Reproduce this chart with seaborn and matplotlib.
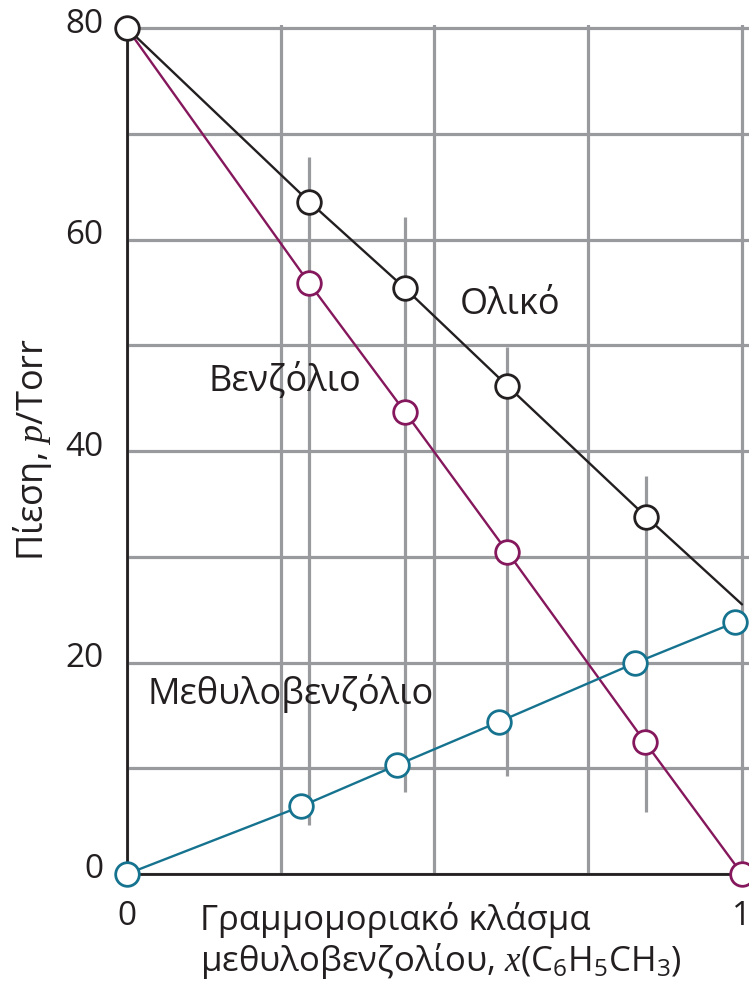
import matplotlib
matplotlib.use("Agg")
import matplotlib.pyplot as plt
import matplotlib.transforms as mtransforms
import seaborn as sns
import pandas as pd

# Vapour pressures of a benzene / methylbenzene mixture (Torr) against mole fraction of methylbenzene
x_total = [0.0, 0.296, 0.452, 0.618, 0.844, 1.0]
p_total = [80.0, 63.6, 55.4, 46.2, 33.8, 25.5]

x_benzene = [0.0, 0.296, 0.452, 0.618, 0.842, 1.0]
p_benzene = [80.0, 55.9, 43.7, 30.5, 12.5, 0.0]

x_methyl = [0.0, 0.283, 0.439, 0.605, 0.826, 0.989]
p_methyl = [0.0, 6.4, 10.3, 14.4, 19.95, 23.8]

# vertical composition lines through the measured points
x_iso = [0.296, 0.452, 0.618, 0.844]
iso_low = [4.6, 7.8, 9.3, 5.9]
iso_high = [67.8, 62.1, 49.8, 37.6]

x_ticks = [0, 0.25, 0.5, 0.75, 1.0]
x_ticklabels = ["0", "", "", "", "1"]
y_ticks = [0, 10, 20, 30, 40, 50, 60, 70, 80]
y_ticklabels = ["0", "", "20", "", "40", "", "60", "", "80"]

label_total = "Ολικό"
label_benzene = "Βενζόλιο"
label_methyl = "Μεθυλοβενζόλιο"

sns.set_theme(style="white")
plt.rcParams["font.family"] = ["Open Sans", "DejaVu Sans"]
plt.rcParams["mathtext.fontset"] = "custom"
plt.rcParams["mathtext.rm"] = "Open Sans"
plt.rcParams["mathtext.it"] = "Liberation Serif:italic"
plt.rcParams["mathtext.bf"] = "Open Sans:bold"

TEXT = "#231f20"
GRID = "#999a9e"
C_TOTAL = "#231f20"
C_BENZ = "#85175c"
C_METH = "#16738f"

fig = plt.figure(figsize=(7.49, 9.90), dpi=100)
ax = fig.add_axes([127 / 749, 116 / 990, 622 / 749, 849 / 990])
ax.set_xlim(0, 622 / 615)
ax.set_ylim(0, 80.3)

ax.set_xticks(x_ticks)
ax.set_xticklabels(x_ticklabels)
ax.set_yticks(y_ticks)
ax.set_yticklabels(y_ticklabels)
ax.tick_params(axis="both", length=0, labelsize=24, colors=TEXT)
ax.tick_params(axis="y", pad=17)
ax.tick_params(axis="x", pad=19)
for lab in ax.get_yticklabels():
    lab.set_transform(lab.get_transform() +
                      mtransforms.ScaledTranslation(0, 8 / 100, fig.dpi_scale_trans))

ax.grid(True, color=GRID, linewidth=2.3)
ax.set_axisbelow(True)

for side in ("top", "right"):
    ax.spines[side].set_visible(False)
for side in ("left", "bottom"):
    ax.spines[side].set_color(TEXT)
    ax.spines[side].set_linewidth(2.0)
ax.spines["left"].set_bounds(0, 80)

ax.vlines(x_iso, iso_low, iso_high, colors=GRID, linewidth=2.3, zorder=1.5)

df_total = pd.DataFrame({"x": x_total, "p": p_total})
df_benz = pd.DataFrame({"x": x_benzene, "p": p_benzene})
df_meth = pd.DataFrame({"x": x_methyl, "p": p_methyl})

mk = dict(marker="o", markersize=17, markerfacecolor="white",
          markeredgewidth=2.0, linewidth=1.7, clip_on=False)

sns.lineplot(data=df_benz, x="x", y="p", ax=ax, color=C_BENZ,
             markeredgecolor=C_BENZ, markevery=[1, 2, 3, 4, 5], zorder=3, **mk)
sns.lineplot(data=df_meth, x="x", y="p", ax=ax, color=C_METH,
             markeredgecolor=C_METH, zorder=3.5, **mk)
sns.lineplot(data=df_total, x="x", y="p", ax=ax, color=C_TOTAL,
             markeredgecolor=C_TOTAL, markevery=[0, 1, 2, 3, 4], zorder=4, **mk)

ax.text(0.541, 53.8, label_total, fontsize=26, color=TEXT, ha="left", va="center")
ax.text(0.132, 46.7, label_benzene, fontsize=26, color=TEXT, ha="left", va="center")
ax.text(0.033, 17.1, label_methyl, fontsize=26, color=TEXT, ha="left", va="center")

ax.set_ylabel("Πίεση, $p$/Torr", fontsize=26, color=TEXT, labelpad=8)
ax.set_xlabel("Γραμμομοριακό κλάσμα\nμεθυλοβενζολίου, $x$($\\mathrm{C_6H_5CH_3}$)",
              fontsize=25, color=TEXT, linespacing=1.1,
              ha="left", multialignment="left")
ax.xaxis.set_label_coords((200 - 127) / 622, -0.033, transform=ax.transAxes)
ax.xaxis.label.set_va("top")

fig.savefig("out.png", dpi=100)
